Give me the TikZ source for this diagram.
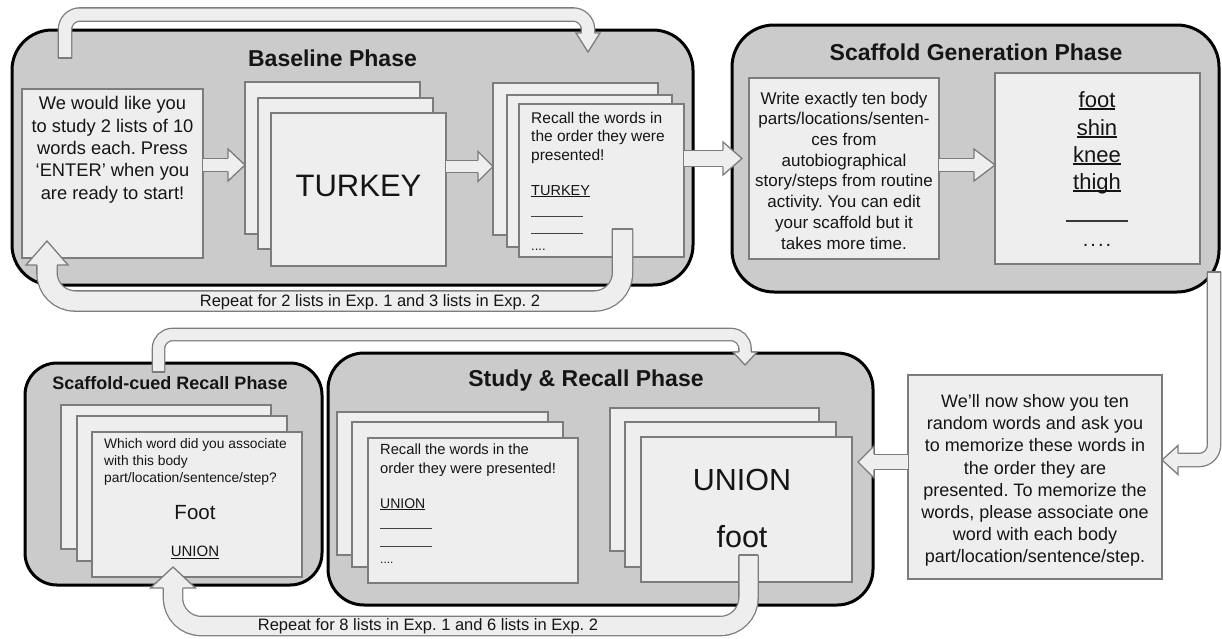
\documentclass[tikz,border=0pt]{standalone}
\usepackage{fontspec}
\setmainfont{Liberation Sans}
\usetikzlibrary{fit,calc}
\frenchspacing
\definecolor{phasefill}{HTML}{CBCBCB}
\definecolor{cardfill}{HTML}{EEEEEE}
\definecolor{cardline}{HTML}{7C7C7C}
\definecolor{ink}{HTML}{151515}
\newsavebox\ulbox
\newcommand{\ulw}[1]{\sbox\ulbox{#1}\rlap{\rule[-0.12em]{\wd\ulbox}{0.065em}}\usebox\ulbox}
\newcommand{\fsz}[2]{\fontsize{#1}{#2}\selectfont}
\newcommand{\ahead}[5]{%
  \begin{scope}[shift={#1}, rotate=#2]
    \fill[cardfill] (0,#3) -- (0,#4) -- (#5,0) -- (0,-#4) -- (0,-#3) -- cycle;
    \draw[cardline, line width=1.3pt, line join=miter] (0,#3) -- (0,#4) -- (#5,0) -- (0,-#4) -- (0,-#3);
  \end{scope}}
\newcommand{\capline}[2]{\draw[cardline, line width=1.3pt] ($(#1)+(-#2,0)$) -- ($(#1)+(#2,0)$);}
\tikzset{
  phase/.style={draw=black, line width=3pt, fill=phasefill, inner sep=0pt, outer sep=0pt},
  card/.style={draw=cardline, line width=1.3pt, fill=cardfill, inner sep=0pt, outer sep=0pt},
  shaft/.style={draw=cardline, line width=1.3pt, double=cardfill, double distance=#1},
  ptitle/.style={inner sep=0pt, anchor=base, text=ink, font=\bfseries\fsz{#1}{#1}},
  body/.style={inner sep=0pt, text=ink},
  blankline/.style={draw=ink!80, line width=0.8pt},
}
\begin{document}
\begin{tikzpicture}[x=1pt, y=-1pt]
\useasboundingbox (0,0) rectangle (1222,638);

% ---------- phase boxes ----------
\node[phase, rounded corners=40pt, fit={(12,30) (693,285)}] (basephase) {};
\node[phase, rounded corners=42pt, fit={(732,25) (1219,292)}] (scafphase) {};
\node[phase, rounded corners=32pt, fit={(25,363) (322,585)}] (cuedphase) {};
\node[phase, rounded corners=36pt, fit={(328,353) (873,605)}] (studyphase) {};

\node[ptitle=23] (basetitle) at (332.5,66.7) {Baseline Phase};
\node[ptitle=23] (scaftitle) at (976,60) {Scaffold Generation Phase};
\node[ptitle=23] (studytitle) at (586,386.7) {Study \& Recall Phase};
\node[ptitle=18] (cuedtitle) at (170,389) {Scaffold-cued Recall Phase};

% ---------- cards ----------
\node[card, fit={(22,89) (203,258)}] (intro) {};
\node[card, fit={(245,82) (420,234)}] (tk1) {};
\node[card, fit={(258,98) (433,249)}] (tk2) {};
\node[card, fit={(271,113) (446,266)}] (tk3) {};
\node[card, fit={(493,83) (658,235)}] (r1) {};
\node[card, fit={(507,95) (672,247)}] (r2) {};
\node[card, fit={(519,104) (684,257)}] (r3) {};
\node[card, fit={(749,78) (939,259)}] (write) {};
\node[card, fit={(995,73) (1200,264)}] (list) {};
\node[card, fit={(908,375) (1162,579)}] (wel) {};
\node[card, fit={(337,412) (548,555)}] (s1) {};
\node[card, fit={(352,422) (563,567)}] (s2) {};
\node[card, fit={(368,438) (578,583)}] (s3) {};
\node[card, fit={(610,408) (819,551)}] (u1) {};
\node[card, fit={(625,422) (836,567)}] (u2) {};
\node[card, fit={(641,437) (852,582)}] (u3) {};
\node[card, fit={(61,405) (271,549)}] (c1) {};
\node[card, fit={(77,416) (287,561)}] (c2) {};
\node[card, fit={(92,432) (302,577)}] (c3) {};

% ---------- texts ----------
\node[body, anchor=north, align=center, font=\fsz{18.3}{22.3}] (introtext) at (112.5,94)
  {\strut We would like you\\ to study 2 lists of 10\\ words each. Press\\ ‘ENTER’ when you\\ are ready to start!};
\node[body, anchor=base, font=\fsz{31}{31}] (tkword) at (358.5,196.7) {TURKEY};

\node[body, anchor=north west, align=left, font=\fsz{15.5}{18.5}] (rtext) at (531,110)
  {\strut Recall the words in\\ the order they were\\ presented!};
\node[body, anchor=base west, font=\fsz{14.5}{14.5}] (rword) at (531,195) {\ulw{TURKEY}};
\draw[blankline] (531,216) -- (583,216);
\draw[blankline] (531,233) -- (583,233);
\node[body, anchor=base west, font=\fsz{13}{13}] (rdots) at (531,250) {....};

\node[body, anchor=north, align=center, font=\fsz{17}{20.7}] (writetext) at (844,89.5)
  {\strut Write exactly ten body\\ parts/locations/senten-\\ ces from\\ autobiographical\\ story/steps from routine\\ activity. You can edit\\ your scaffold but it\\ takes more time.};

\node[body, anchor=base, font=\fsz{22}{22}] (lw1) at (1097,107) {\ulw{foot}};
\node[body, anchor=base, font=\fsz{22}{22}] (lw2) at (1097,135) {\ulw{shin}};
\node[body, anchor=base, font=\fsz{22}{22}] (lw3) at (1097,162) {\ulw{knee}};
\node[body, anchor=base, font=\fsz{22}{22}] (lw4) at (1097,189) {\ulw{thigh}};
\draw[draw=ink!85, line width=1.3pt] (1066,221) -- (1128,221);
\node[body, anchor=base, font=\fsz{20}{20}] (ldots) at (1097,246) {.\hspace{2pt}.\hspace{2pt}.\hspace{2pt}.};

\node[body, anchor=north, align=center, font=\fsz{18}{22.2}] (weltext) at (1035,391.7)
  {\strut We'll now show you ten\\ random words and ask you\\ to memorize these words in\\ the order they are\\ presented. To memorize the\\ words, please associate one\\ word with each body\\ part/location/sentence/step.};

\node[body, anchor=north west, align=left, font=\fsz{14.7}{19}] (stext) at (380,440.5)
  {\strut Recall the words in the\\ order they were presented!};
\node[body, anchor=base west, font=\fsz{14}{14}] (sword) at (380,508) {\ulw{UNION}};
\draw[blankline] (380,528) -- (432,528);
\draw[blankline] (380,546) -- (432,546);
\node[body, anchor=base west, font=\fsz{12}{12}] (sdots) at (380,563) {....};

\node[body, anchor=base, font=\fsz{30.5}{30.5}] (uword) at (742,490) {UNION};
\node[body, anchor=base, font=\fsz{30.5}{30.5}] (fword) at (742,547) {foot};

\node[body, anchor=north west, align=left, font=\fsz{13.8}{17}] (ctext) at (104,436.3)
  {\strut Which word did you associate\\ with this body\\ part/location/sentence/step?};
\node[body, anchor=base, font=\fsz{20.5}{20.5}] (cfoot) at (195,519.3) {Foot};
\node[body, anchor=base, font=\fsz{15}{15}] (cword) at (195,556.7) {\ulw{UNION}};

% ---------- straight block arrows ----------
% A1 intro -> TURKEY
\coordinate (ya1) at (0,165);
\coordinate (a1s) at (intro.east |- ya1);
\coordinate (a1t) at (tk1.west |- ya1);
\coordinate (a1b) at ($(a1t)+(-17,0)$);
\draw[shaft=12pt] (a1s) -- (a1b);
\ahead{(a1b)}{0}{6.65}{16}{17}
% A2 TURKEY -> recall
\coordinate (ya2) at (0,166.5);
\coordinate (a2s) at (tk3.east |- ya2);
\coordinate (a2t) at (r1.west |- ya2);
\coordinate (a2b) at ($(a2t)+(-15,0)$);
\draw[shaft=11pt] (a2s) -- (a2b);
\ahead{(a2b)}{0}{6.15}{15}{15}
% A3 recall -> scaffold phase
\coordinate (ya3) at (0,158.5);
\coordinate (a3s) at (r3.east |- ya3);
\coordinate (a3t) at ($(scafphase.west |- ya3)+(10,0)$);
\coordinate (a3b) at ($(a3t)+(-19,0)$);
\draw[shaft=15pt] (a3s) -- (a3b);
\ahead{(a3b)}{0}{8.15}{16.5}{19}
% A4 write -> list
\coordinate (ya4) at (0,165);
\coordinate (a4s) at (write.east |- ya4);
\coordinate (a4t) at (list.west |- ya4);
\coordinate (a4b) at ($(a4t)+(-21,0)$);
\draw[shaft=12pt] (a4s) -- (a4b);
\ahead{(a4b)}{0}{6.65}{16}{21}
% A5 we'll -> study phase
\coordinate (ya5) at (0,462);
\coordinate (a5s) at (wel.west |- ya5);
\coordinate (a5t) at ($(studyphase.east |- ya5)+(-15,0)$);
\coordinate (a5b) at ($(a5t)+(16,0)$);
\draw[shaft=14pt] (a5s) -- (a5b);
\ahead{(a5b)}{180}{7.65}{16}{16}

% ---------- loop arrows ----------
% L1 top of baseline phase -> recall stack
\coordinate (l1s) at ($(intro.north west)+(43,-31)$);
\coordinate (l1a) at (65,14.5);
\coordinate (l1b) at (588,14.5);
\coordinate (l1e) at ($(r1.north west)+(95,-50)$);
\draw[shaft=12pt, rounded corners=15pt] (l1s) -- (l1a) -- (l1b) -- (l1e);
\capline{l1s}{6.65}
\ahead{(l1e)}{-90}{6.65}{12}{19}

% L2 recall stack -> intro (repeat)
\coordinate (l2s) at ($(r3.south west)+(103.5,-28)$);
\coordinate (l2a) at (622.5,301);
\coordinate (l2b) at (47,301);
\coordinate (l2e) at ($(intro.south west)+(25,7)$);
\draw[shaft=19pt, rounded corners=28pt] (l2s) -- (l2a) -- (l2b) -- (l2e);
\capline{l2s}{10.15}
\ahead{(l2e)}{90}{10.15}{21}{24}
\node[body, anchor=base, font=\fsz{16.5}{16.5}] (rep1) at (370,306.7) {Repeat for 2 lists in Exp. 1 and 3 lists in Exp. 2};

% L3 scaffold phase -> we'll box
\coordinate (l3s) at (1214,272);
\coordinate (l3a) at (1214,460);
\coordinate (l3e) at ($(wel.east |- l3a)+(16,0)$);
\draw[shaft=12pt, rounded corners=15pt] (l3s) -- (l3a) -- (l3e);
\capline{l3s}{6.65}
\ahead{(l3e)}{180}{6.65}{14.5}{16}

% L4 scaffold-cued -> study phase
\coordinate (l4s) at (158.5,372);
\coordinate (l4a) at (158.5,334.5);
\coordinate (l4b) at (745,334.5);
\coordinate (l4e) at (745,352);
\draw[shaft=11pt, rounded corners=14pt] (l4s) -- (l4a) -- (l4b) -- (l4e);
\capline{l4s}{6.15}
\ahead{(l4e)}{-90}{6.15}{12}{13}

% L5 UNION stack -> scaffold-cued (repeat)
\coordinate (l5s) at ($(u3.south west)+(107.5,-27)$);
\coordinate (l5a) at (748.5,626);
\coordinate (l5b) at (173,626);
\coordinate (l5e) at ($(c3.south west)+(81,11)$);
\draw[shaft=18pt, rounded corners=28pt] (l5s) -- (l5a) -- (l5b) -- (l5e);
\capline{l5s}{9.65}
\ahead{(l5e)}{90}{9.65}{22.5}{21}
\node[body, anchor=base, font=\fsz{16.5}{16.5}] (rep2) at (428,630.7) {Repeat for 8 lists in Exp. 1 and 6 lists in Exp. 2};
\end{tikzpicture}
\end{document}
